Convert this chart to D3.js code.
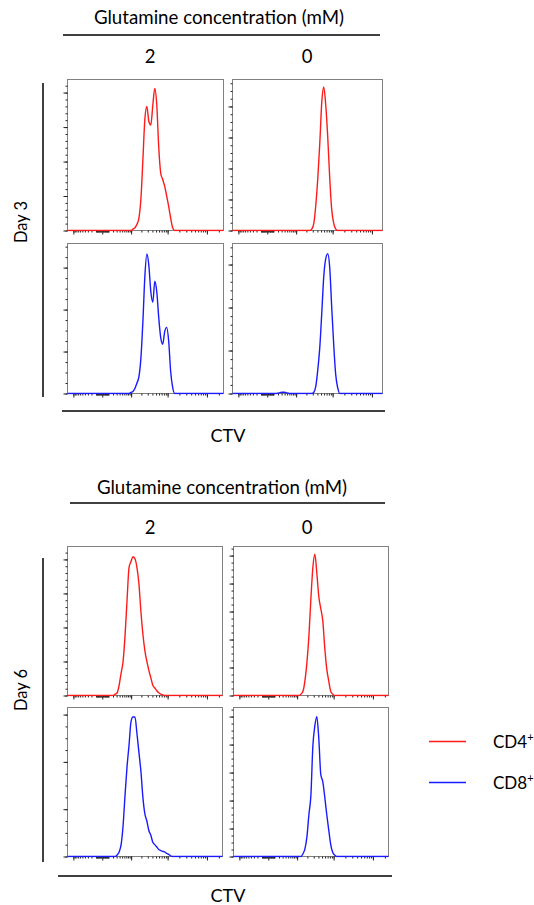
<!DOCTYPE html>
<html>
<head>
<meta charset="utf-8">
<script src="https://cdn.jsdelivr.net/npm/d3@7"></script>
<style>
  body { margin: 0; background: #fff; }
  svg { display: block; font-family: Lato, "Open Sans", sans-serif; }
  .tick line { stroke: #222; }
</style>
</head>
<body>
<div id="chart"></div>
<script>
const width = 534;
const height = 905;

const ctv = [77, 114, 156, 203, 256, 315, 382, 457, 540, 634, 740, 858, 991, 1140, 1307, 1495, 1704, 1941,
  2206, 2502, 2836, 3211, 3629, 4103, 4630, 5223, 5888, 6636, 7470, 8411, 9465, 10647, 11978, 13467,
  15141, 17013, 19115];

const days = ["Day 3", "Day 6"];
const concentrations = ["2", "0"];
const cellTypes = ["CD4", "CD8"];

// counts per panel (day / cell type / glutamine mM)
const day3CD4Gln2 = [0,0,0,0,0,0,0,0,0,0,0,0,0,2,4,9,18,46,103,162,180,158,153,182,206,182,120,83,74,64,50,35,18,4,0,0,0];
const day3CD4Gln0 = [0,0,0,0,0,0,0,0,0,0,0,0,0,0,0,0,0,0,0,0,5,24,83,170,282,414,463,404,302,170,68,24,5,0,0,0,0];
const day3CD8Gln2 = [0,0,0,0,0,0,0,0,0,0,0,0,1,2,5,10,16,34,69,112,133,122,97,87,107,97,72,53,47,59,63,50,21,6,0,0,0];
const day3CD8Gln0 = [0,0,0,1,2,3,3,2,1,0,0,0,0,0,0,0,0,0,0,0,0,3,17,56,108,188,272,314,325,293,202,115,45,14,0,0,0];
const day6CD4Gln2 = [0,0,0,0,2,4,15,33,50,88,140,188,197,204,201,188,164,123,90,66,50,37,26,15,11,7,4,2,1,0,0,0,0,0,0,0,0];
const day6CD4Gln0 = [0,0,0,0,0,0,0,0,0,0,0,0,0,0,2,6,21,47,85,138,183,202,175,141,124,107,68,38,21,6,2,0,0,0,0,0,0];
const day6CD8Gln2 = [0,0,0,0,0,0.6,1.9,5,13,26,38,47,57,59,59,52,44,36,25,18,15,11,9,6,5,4,3,2.5,2.2,1.9,1.3,0.9,0.3,0,0,0,0];
const day6CD8Gln0 = [0,0,0,0,0,0,0,0,0,0,0,0,0,0,0,4,11,28,60,87,158,187,200,168,117,107,85,60,38,17,6,2,0,0,0,0,0];

// y axis extent and tick steps per panel, same order
const yMax = [219, 487, 143, 349, 219, 213, 63, 213];
const yStep = [50, 100, 40, 100, 50, 40, 20, 40];
const yMinor = [10, 25, 10, 20, 10, 10, 5, 10];

const series = [day3CD4Gln2, day3CD4Gln0, day3CD8Gln2, day3CD8Gln0,
  day6CD4Gln2, day6CD4Gln0, day6CD8Gln2, day6CD8Gln0];
const colors = { CD4: "#ff1a1a", CD8: "#1a1aff" };

const layout = [
  { titleX: 219, titleY: 17, rule: [63, 380, 35], concY: 56,
    rows: [[79, 151], [243, 150]], cols: [[67, 156], [232, 150]],
    dayLine: [83, 397], dayY: 222, axis: [62, 385, 411], ctvY: 435 },
  { titleX: 222, titleY: 487, rule: [70, 385, 503], concY: 527,
    rows: [[546, 149], [707, 149]], cols: [[67, 155], [233, 155]],
    dayLine: [558, 862], dayY: 690, axis: [58, 392, 876], ctvY: 895 }
];
const concX = [150, 307];

const svg = d3.select("#chart")
  .append("svg")
  .attr("width", width)
  .attr("height", height);

const x = d3.scaleSymlog()
  .constant(230)
  .domain([-1500, 262144])
  .range([0, 156]);

const decades = [10, 100, 1000, 10000, 100000];
const xMinor = decades.flatMap(d => d3.range(1, 10).map(k => k * d))
  .concat(d3.range(1, 10).map(k => -k * 10), d3.range(1, 11).map(k => -k * 100))
  .filter(v => v < 262144);
const xMajor = [-1000, 0, 1000, 10000, 100000];

const line = d3.line()
  .x(d => x(d[0]))
  .y(d => d[2](d[1]))
  .curve(d3.curveMonotoneX);

days.forEach((day, di) => {
  const L = layout[di];

  svg.append("text")
    .attr("x", L.titleX).attr("y", L.titleY)
    .attr("text-anchor", "middle").attr("dominant-baseline", "central")
    .attr("font-size", 18.7)
    .text("Glutamine concentration (mM)");

  svg.append("line")
    .attr("x1", L.rule[0]).attr("x2", L.rule[1])
    .attr("y1", L.rule[2]).attr("y2", L.rule[2])
    .attr("stroke", "#000").attr("stroke-width", 1.5);

  concentrations.forEach((c, ci) => {
    svg.append("text")
      .attr("x", concX[ci]).attr("y", L.concY)
      .attr("text-anchor", "middle").attr("dominant-baseline", "central")
      .attr("font-size", 18.5)
      .text(c);
  });

  svg.append("line")
    .attr("x1", 43).attr("x2", 43)
    .attr("y1", L.dayLine[0]).attr("y2", L.dayLine[1])
    .attr("stroke", "#000").attr("stroke-width", 1.5);

  svg.append("text")
    .attr("transform", `translate(21,${L.dayY}) rotate(-90)`)
    .attr("text-anchor", "middle").attr("dominant-baseline", "central")
    .attr("font-size", 16.5)
    .text(day);

  svg.append("line")
    .attr("x1", L.axis[0]).attr("x2", L.axis[1])
    .attr("y1", L.axis[2]).attr("y2", L.axis[2])
    .attr("stroke", "#000").attr("stroke-width", 1.5);

  svg.append("text")
    .attr("x", 228).attr("y", L.ctvY)
    .attr("text-anchor", "middle").attr("dominant-baseline", "central")
    .attr("font-size", 18)
    .text("CTV");

  cellTypes.forEach((cell, ri) => {
    concentrations.forEach((c, ci) => {
      const k = di * 4 + ri * 2 + ci;
      const [px, pw] = L.cols[ci];
      const [py, ph] = L.rows[ri];

      const y = d3.scaleLinear().domain([0, yMax[k]]).range([ph, 0]);

      const g = svg.append("g")
        .attr("transform", `translate(${px + 0.5},${py + 0.5})`);

      g.append("clipPath")
        .attr("id", `clip${k}`)
        .append("rect")
        .attr("x", 0).attr("y", -1)
        .attr("width", pw).attr("height", ph + 2);

      g.append("rect")
        .attr("width", pw).attr("height", ph)
        .attr("fill", "none").attr("stroke", "#808080");

      // y ticks
      g.append("g")
        .call(d3.axisLeft(y).tickValues(d3.range(0, yMax[k] + 1e-6, yMinor[k])).tickSize(2).tickFormat(""))
        .call(a => a.select(".domain").remove());
      g.append("g")
        .call(d3.axisLeft(y).tickValues(d3.range(0, yMax[k] + 1e-6, yStep[k])).tickSize(4).tickFormat(""))
        .call(a => a.select(".domain").remove());

      // x ticks
      const xa = g.append("g").attr("transform", `translate(0,${ph})`);
      xa.append("g")
        .call(d3.axisBottom(x).tickValues(xMinor.filter(v => x(v) <= pw)).tickSize(2).tickFormat(""))
        .call(a => a.select(".domain").remove());
      xa.append("g")
        .call(d3.axisBottom(x).tickValues(xMajor.filter(v => x(v) <= pw)).tickSize(4).tickFormat(""))
        .call(a => a.select(".domain").remove());

      const pts = [[-1500, 0]].concat(ctv.map((v, i) => [v, series[k][i]]), [[262144, 0]])
        .map(d => [d[0], d[1], y]);

      g.append("path")
        .attr("d", line(pts))
        .attr("clip-path", `url(#clip${k})`)
        .attr("fill", "none")
        .attr("stroke", colors[cell])
        .attr("stroke-width", 1.4);
    });
  });
});

// legend
const legend = svg.append("g");
cellTypes.forEach((cell, i) => {
  const ly = 741.5 + i * 41;
  legend.append("line")
    .attr("x1", 429).attr("x2", 466)
    .attr("y1", ly).attr("y2", ly)
    .attr("stroke", colors[cell]).attr("stroke-width", 1.5);
  const t = legend.append("text")
    .attr("x", 493).attr("y", ly + 6)
    .attr("font-size", 17);
  t.append("tspan").text(cell);
  t.append("tspan").attr("font-size", 11).attr("dy", -7).text("+");
});
</script>
</body>
</html>
